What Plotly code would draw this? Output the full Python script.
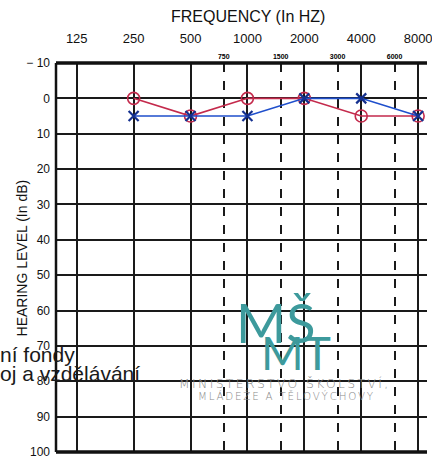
import plotly.graph_objects as go

# ---- data ----
freqs = [250, 500, 1000, 2000, 4000, 8000]
right_ear_db = [0, 5, 0, 0, 5, 5]      # red circles
left_ear_db = [5, 5, 5, 0, 0, 5]       # blue crosses
major_freqs = [125, 250, 500, 1000, 2000, 4000, 8000]
major_labels = ["125", "250", "500", "1000", "2000", "4000", "8000"]
minor_freqs = [750, 1500, 3000, 6000]
minor_labels = ["750", "1500", "3000", "6000"]
db_ticks = [-10, 0, 10, 20, 30, 40, 50, 60, 70, 80, 90, 100]
db_labels = ["\u2212 10", "0", "10", "20", "30", "40", "50", "60", "70", "80", "90", "100"]

W, H = 432, 459
L, R, T, B = 56, 0, 63, 7
PW, PH = W - L - R, H - T - B

def px(x):
    return (x - L) / PW

def py(y):
    return (H - B - y) / PH

FONT = "Liberation Sans"
RED = "#c42a4c"
BLUE = "#1f4fcc"
TEAL = "#3d9a9c"

fig = go.Figure()
fig.add_trace(go.Scatter(
    x=freqs, y=right_ear_db, mode="lines+markers",
    line=dict(color=RED, width=1.6),
    marker=dict(symbol="circle-open", size=12, color=RED, line=dict(width=1.6)),
    showlegend=False, cliponaxis=False))
fig.add_trace(go.Scatter(
    x=freqs, y=left_ear_db, mode="lines+markers",
    line=dict(color=BLUE, width=1.6),
    marker=dict(symbol="x-thin", size=10, color="#14308f", line=dict(width=2.2, color="#14308f")),
    showlegend=False, cliponaxis=False))
# invisible trace to activate xaxis2
fig.add_trace(go.Scatter(x=[1000], y=[0], xaxis="x2", mode="markers",
                         marker=dict(opacity=0), showlegend=False, hoverinfo="skip"))

xr = [1.9873, 3.9500]
fig.update_layout(
    width=W, height=H,
    margin=dict(l=L, r=R, t=T, b=B, pad=0),
    paper_bgcolor="white", plot_bgcolor="white",
    font=dict(family=FONT, color="#111"),
    xaxis=dict(type="log", range=xr, side="top", tickvals=major_freqs, ticktext=major_labels,
               tickfont=dict(size=13, family=FONT, color="#111"), ticks="",
               ticklabelstandoff=16, ticklabeloverflow="allow",
               showgrid=True, gridcolor="#1a1a1a", gridwidth=1.6, zeroline=False, showline=False),
    xaxis2=dict(type="log", range=xr, side="top", overlaying="x", tickvals=minor_freqs,
                ticktext=minor_labels, tickfont=dict(size=7, family=FONT, color="#000", weight="bold"),
                ticks="", ticklabelstandoff=2, ticklabeloverflow="allow",
                showgrid=True, gridcolor="#1a1a1a", gridwidth=1.6, griddash="dash",
                zeroline=False, showline=False),
    yaxis=dict(range=[100, -10], tickvals=db_ticks, ticktext=db_labels,
               tickfont=dict(size=12, family=FONT, color="#111"), ticks="", ticklabelstandoff=5,
               ticklabeloverflow="allow",
               showgrid=True, gridcolor="#1a1a1a", gridwidth=1.6, zeroline=False, showline=False),
    shapes=[
        dict(type="line", xref="paper", yref="paper", x0=0, x1=1, y0=1, y1=1,
             line=dict(color="#111", width=3.5)),
        dict(type="line", xref="paper", yref="paper", x0=0, x1=1, y0=0, y1=0,
             line=dict(color="#111", width=3.5)),
        dict(type="line", xref="paper", yref="paper", x0=0, x1=0, y0=0, y1=1,
             line=dict(color="#111", width=2.5)),
    ],
    annotations=[
        dict(text="FREQUENCY (In HZ)", xref="paper", yref="paper", x=px(251), y=py(16),
             showarrow=False, font=dict(size=16, family=FONT, color="#111"),
             xanchor="center", yanchor="middle"),
        dict(text="HEARING LEVEL (In dB)", xref="paper", yref="paper", x=px(22), y=py(258),
             showarrow=False, textangle=-90, font=dict(size=14, family=FONT, color="#111"),
             xanchor="center", yanchor="middle"),
        # watermark logo
        dict(text="MŠ", xref="paper", yref="paper", x=px(278), y=py(322), showarrow=False,
             font=dict(size=54, family="Lato", color=TEAL),
             xanchor="center", yanchor="middle"),
        dict(text="MT", xref="paper", yref="paper", x=px(299), y=py(352), showarrow=False,
             font=dict(size=46, family="Lato", color=TEAL),
             xanchor="center", yanchor="middle"),
        dict(text='<span style="letter-spacing:2.4px">MINISTERSTVO ŠKOLSTVÍ,</span>',
             xref="paper", yref="paper", x=px(288), y=py(383),
             showarrow=False, font=dict(size=12.3, family="DejaVu Sans", color="#8a8a8a", weight=200),
             xanchor="center", yanchor="middle"),
        dict(text='<span style="letter-spacing:1.8px">MLÁDEŽE A TĚLOVÝCHOVY</span>',
             xref="paper", yref="paper", x=px(290), y=py(396),
             showarrow=False, font=dict(size=10.3, family="DejaVu Sans", color="#8a8a8a", weight=200),
             xanchor="center", yanchor="middle"),
        dict(text="ní fondy", xref="paper", yref="paper", x=px(-3), y=py(354), showarrow=False,
             font=dict(size=21, family=FONT, color="#1a1a1a"), xanchor="left", yanchor="middle"),
        dict(text="oj a vzdělávání", xref="paper", yref="paper", x=px(-3), y=py(373), showarrow=False,
             font=dict(size=21, family=FONT, color="#1a1a1a"), xanchor="left", yanchor="middle"),
    ],
)

fig.write_html("out.html")
